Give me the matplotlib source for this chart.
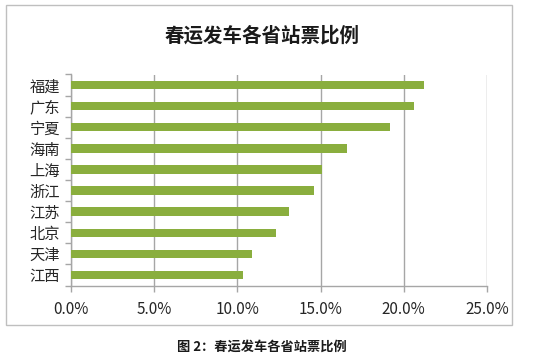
import numpy as np, matplotlib
matplotlib.use("Agg")
import matplotlib.pyplot as plt
from matplotlib.ticker import FuncFormatter, FixedLocator
from matplotlib.patches import Rectangle

plt.rcParams["font.family"] = ["Noto Sans CJK SC", "DejaVu Sans"]

provinces = ["福建", "广东", "宁夏", "海南", "上海", "浙江", "江苏", "北京", "天津", "江西"]
share = [21.2, 20.6, 19.2, 16.6, 15.1, 14.6, 13.1, 12.3, 10.9, 10.35]
xticks = [0, 5, 10, 15, 20, 25]

GREEN = "#8AAE3E"; GRID = "#A6A6A6"; TXT = "#262626"

fig = plt.figure(figsize=(5.5, 3.62), dpi=100)
fig.patch.set_facecolor("white")
# outer chart frame
fig.patches.append(Rectangle((6/550, 1-325/362), 506/550, 320/362, transform=fig.transFigure,
                             fill=False, edgecolor="#BFBFBF", linewidth=1.0))

ax = fig.add_axes([71/550, 1-285.5/362, 416/550, 211/362])
y = np.arange(len(provinces))
ax.barh(y, share, height=0.4, color=GREEN, zorder=3)
ax.set_ylim(len(provinces)-0.5, -0.5)
ax.set_xlim(0, 25)
ax.set_xticks(xticks)
ax.xaxis.set_major_formatter(FuncFormatter(lambda v, p: f"{v:.1f}%"))
ax.set_yticks(y)
ax.set_yticklabels(provinces, fontsize=11, color=TXT)
ax.yaxis.set_minor_locator(FixedLocator(np.arange(-0.5, len(provinces), 1.0)))
ax.tick_params(axis="y", which="major", length=0, pad=8)
ax.tick_params(axis="y", which="minor", length=4, color=GRID, width=1)
ax.tick_params(axis="x", length=4, color=GRID, width=1, labelsize=11, labelcolor=TXT, pad=7)
ax.grid(axis="x", color=GRID, linewidth=1, zorder=0)
for s in ["top", "right"]:
    ax.spines[s].set_visible(False)
for s in ["left", "bottom"]:
    ax.spines[s].set_color(GRID)
    ax.spines[s].set_linewidth(1)

fig.text(262/550, 1-36/362, "春运发车各省站票比例", ha="center", va="center",
         fontsize=14, fontweight="bold", color="#1A1A1A")
fig.text(262/550, 1-347/362, "图 2：春运发车各省站票比例", ha="center", va="center",
         fontsize=9.5, fontweight="bold", color="#1A1A1A")

fig.savefig("out.png", dpi=100)
